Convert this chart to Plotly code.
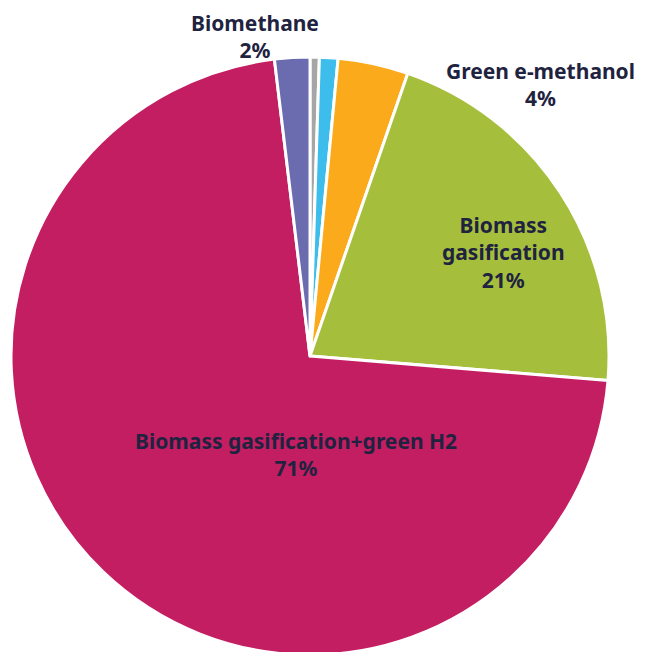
import plotly.graph_objects as go

labels = ["Grey methanol", "Blue methanol", "Green e-methanol", "Biomass gasification",
          "Biomass gasification+green H2", "Biomethane"]
values = [0.5, 1.0, 3.8, 21.0, 71.8, 1.9]
colors = ["#A6A6A6", "#3DBDEB", "#FBAA1B", "#A5BF3D", "#C41E63", "#6B6BB0"]
pct_labels = ["", "", "4%", "21%", "71%", "2%"]
label_text = ["", "", "Green e-methanol", "Biomass<br>gasification",
              "Biomass gasification+green H2", "Biomethane"]

TXT = "#1F2340"
FONT = "Noto Sans"
FS = 21

# page body has an 8px margin; positions below are in figure pixels
W, H = 647, 652
cx, cy, r = 302, 348, 299

fig = go.Figure(go.Pie(
    labels=labels, values=values, sort=False, direction="clockwise", rotation=0,
    marker=dict(colors=colors, line=dict(color="white", width=3)),
    textinfo="none",
    domain=dict(x=[(cx - r) / W, (cx + r) / W], y=[(H - cy - r) / H, (H - cy + r) / H]),
    showlegend=False, hoverinfo="label+percent",
))

# label positions (figure pixels, centre of text block)
label_pos = {2: (532, 77), 3: (495, 244), 4: (288, 446)}
for i, (px, py) in label_pos.items():
    fig.add_annotation(x=px / W, y=1 - py / H, xref="paper", yref="paper",
                       xanchor="center", yanchor="middle", borderpad=0,
                       text=f"<b>{label_text[i]}</b><br><b>{pct_labels[i]}</b>",
                       showarrow=False, align="center",
                       font=dict(family=FONT, size=FS, color=TXT))
# Biomethane label sits at the very top edge
fig.add_annotation(x=247 / W, y=1, xref="paper", yref="paper",
                   xanchor="center", yanchor="top", borderpad=0,
                   text=f"<b>{label_text[5]}</b><br><b>{pct_labels[5]}</b>",
                   showarrow=False, align="center",
                   font=dict(family=FONT, size=FS, color=TXT))

fig.update_layout(width=W, height=H, margin=dict(l=0, r=0, t=0, b=0),
                  paper_bgcolor="white", plot_bgcolor="white")
fig.write_html("out.html")
